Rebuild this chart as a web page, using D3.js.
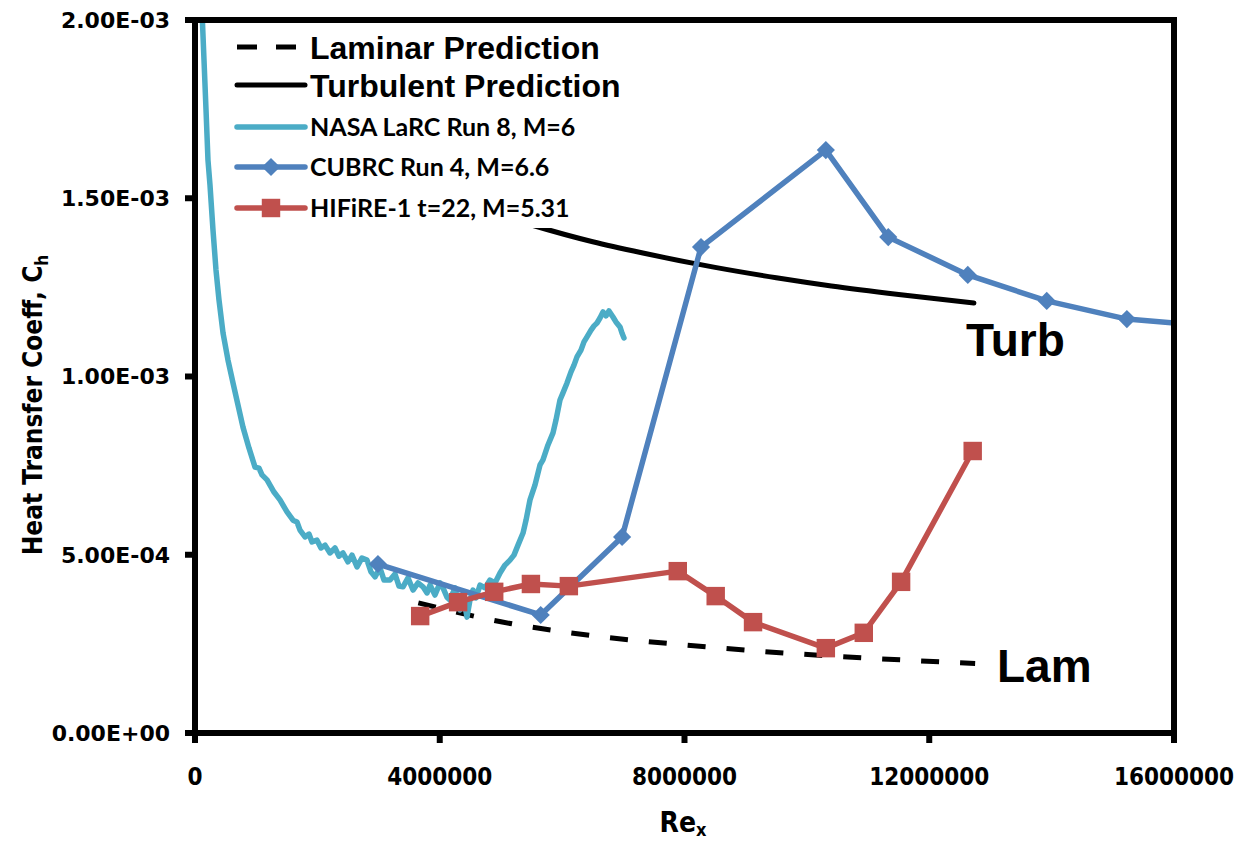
<!DOCTYPE html>
<html>
<head>
<meta charset="utf-8">
<script src="https://cdn.jsdelivr.net/npm/d3@7"></script>
<style>
  body { margin: 0; background: #fff; }
  svg { display: block; }
</style>
</head>
<body>
<svg id="chart" width="1234" height="844"></svg>
<script>
// ---- data ----
const xTicks = [0, 4000000, 8000000, 12000000, 16000000];
const yTicks = [0, 0.0005, 0.001, 0.0015, 0.002];
const yTickLabels = ['0.00E+00', '5.00E-04', '1.00E-03', '1.50E-03', '2.00E-03'];

const seriesNames = ['Laminar Prediction', 'Turbulent Prediction', 'NASA LaRC Run 8, M=6',
  'CUBRC Run 4, M=6.6', 'HIFiRE-1 t=22, M=5.31'];

const laminarRe = [3650000, 5000000, 6500000, 8000000, 9500000, 11000000, 12750000];
const laminarCh = [3.65e-4, 3.12e-4, 2.73e-4, 2.47e-4, 2.26e-4, 2.10e-4, 1.95e-4];

const turbRe = [3700000, 4500000, 5500000, 6500000, 7300000, 8500000, 9500000, 10400000, 11500000, 12730000];
const turbCh = [1.54e-3, 1.48e-3, 1.425e-3, 1.378e-3, 1.347e-3, 1.306e-3, 1.277e-3, 1.254e-3, 1.23e-3, 1.206e-3];

const nasaRe = [114000, 147000, 180000, 212000, 245000, 294000, 343000, 392000, 458000, 539000,
  621000, 703000, 784000, 883000, 981000, 1046000, 1095000, 1177000, 1291000, 1389000,
  1504000, 1602000, 1667000, 1716000, 1798000, 1863000, 1912000, 1994000, 2059000, 2125000,
  2206000, 2288000, 2353000, 2419000, 2500000, 2566000, 2648000, 2729000, 2811000, 2876000,
  2942000, 3023000, 3089000, 3187000, 3269000, 3334000, 3399000, 3481000, 3563000, 3645000,
  3726000, 3792000, 3841000, 3922000, 4004000, 4053000, 4118000, 4167000, 4249000, 4331000,
  4396000, 4445000, 4494000, 4543000, 4592000, 4658000, 4740000, 4821000, 4903000, 4985000,
  5066000, 5148000, 5213000, 5279000, 5361000, 5410000, 5475000, 5557000, 5639000, 5687000,
  5769000, 5851000, 5900000, 5965000, 6014000, 6080000, 6145000, 6194000, 6243000, 6308000,
  6357000, 6407000, 6472000, 6521000, 6570000, 6619000, 6668000, 6717000, 6766000, 6831000,
  6880000, 6946000, 6978000, 7011000];
const nasaCh = [20.28e-4, 18.88e-4, 17.48e-4, 16.07e-4, 15.37e-4, 14.11e-4, 12.99e-4, 12.15e-4, 11.22e-4, 10.46e-4,
  9.82e-4, 9.20e-4, 8.58e-4, 7.99e-4, 7.46e-4, 7.43e-4, 7.24e-4, 7.10e-4, 6.76e-4, 6.54e-4,
  6.20e-4, 5.97e-4, 5.92e-4, 5.69e-4, 5.50e-4, 5.58e-4, 5.36e-4, 5.41e-4, 5.19e-4, 5.27e-4,
  5.05e-4, 5.19e-4, 4.96e-4, 5.05e-4, 4.80e-4, 4.99e-4, 4.66e-4, 4.91e-4, 4.85e-4, 4.52e-4,
  4.38e-4, 4.63e-4, 4.29e-4, 4.29e-4, 4.46e-4, 4.12e-4, 4.10e-4, 4.35e-4, 4.01e-4, 4.21e-4,
  4.10e-4, 3.93e-4, 4.15e-4, 3.87e-4, 4.21e-4, 4.07e-4, 3.81e-4, 3.73e-4, 4.07e-4, 3.45e-4,
  3.73e-4, 3.25e-4, 3.73e-4, 4.01e-4, 3.79e-4, 4.15e-4, 4.07e-4, 4.29e-4, 4.21e-4, 4.49e-4,
  4.71e-4, 4.85e-4, 4.99e-4, 5.27e-4, 5.61e-4, 5.97e-4, 6.54e-4, 6.96e-4, 7.52e-4, 7.66e-4,
  8.08e-4, 8.42e-4, 8.78e-4, 9.34e-4, 9.54e-4, 9.82e-4, 10.13e-4, 10.32e-4, 10.55e-4, 10.74e-4,
  10.97e-4, 11.11e-4, 11.30e-4, 11.42e-4, 11.50e-4, 11.64e-4, 11.81e-4, 11.70e-4, 11.84e-4, 11.67e-4,
  11.53e-4, 11.39e-4, 11.22e-4, 11.08e-4];

const cubrcRe = [2990000, 5650000, 6980000, 8270000, 10310000, 11330000, 12630000, 13920000, 15230000, 16550000];
const cubrcCh = [4.74e-4, 3.31e-4, 5.50e-4, 1.363e-3, 1.635e-3, 1.391e-3, 1.285e-3, 1.212e-3, 1.161e-3, 1.142e-3];

const hifireRe = [3680000, 4300000, 4890000, 5490000, 6110000, 7890000, 8510000, 9120000, 10310000, 10930000, 11540000, 12710000];
const hifireCh = [3.28e-4, 3.67e-4, 3.96e-4, 4.18e-4, 4.12e-4, 4.54e-4, 3.84e-4, 3.11e-4, 2.38e-4, 2.81e-4, 4.24e-4, 7.91e-4];

// ---- colours (excel 2007 palette) ----
const cNasa = '#4BACC6';
const cCubrc = '#4F81BD';
const cHifire = '#C0504D';

const svg = d3.select('#chart');
const plot = { left: 195, right: 1174, top: 20, bottom: 733 };

const x = d3.scaleLinear().domain([0, 16000000]).range([plot.left, plot.right]);
const y = d3.scaleLinear().domain([0, 0.002]).range([plot.bottom, plot.top]);

svg.append('defs').append('clipPath').attr('id', 'clip')
  .append('rect')
  .attr('x', plot.left).attr('y', plot.top)
  .attr('width', plot.right - plot.left).attr('height', plot.bottom - plot.top);

const line = d3.line().x(d => x(d[0])).y(d => y(d[1]));
const smooth = d3.line().x(d => x(d[0])).y(d => y(d[1])).curve(d3.curveMonotoneX);

const series = svg.append('g').attr('clip-path', 'url(#clip)');

// laminar (dashed)
series.append('path')
  .datum(d3.zip(laminarRe, laminarCh))
  .attr('d', smooth)
  .attr('fill', 'none').attr('stroke', '#000').attr('stroke-width', 5)
  .attr('stroke-dasharray', '18,21');

// turbulent
series.append('path')
  .datum(d3.zip(turbRe, turbCh))
  .attr('d', smooth)
  .attr('fill', 'none').attr('stroke', '#000').attr('stroke-width', 5)
  .attr('stroke-linecap', 'round');

// nasa larc
series.append('path')
  .datum(d3.zip(nasaRe, nasaCh))
  .attr('d', line)
  .attr('fill', 'none').attr('stroke', cNasa).attr('stroke-width', 5.5)
  .attr('stroke-linejoin', 'round').attr('stroke-linecap', 'round');

// cubrc
const cubrcData = d3.zip(cubrcRe, cubrcCh);
series.append('path')
  .datum(cubrcData)
  .attr('d', line)
  .attr('fill', 'none').attr('stroke', cCubrc).attr('stroke-width', 5.5)
  .attr('stroke-linejoin', 'round');

const diamond = d3.symbol().type(d3.symbolSquare).size(165);
series.selectAll('.dia')
  .data(cubrcData)
  .join('path')
  .attr('class', 'dia')
  .attr('d', diamond)
  .attr('transform', d => `translate(${x(d[0])},${y(d[1])}) rotate(45)`)
  .attr('fill', cCubrc);

// hifire
const hifireData = d3.zip(hifireRe, hifireCh);
series.append('path')
  .datum(hifireData)
  .attr('d', line)
  .attr('fill', 'none').attr('stroke', cHifire).attr('stroke-width', 5.5)
  .attr('stroke-linejoin', 'round');

const square = d3.symbol().type(d3.symbolSquare).size(340);
series.selectAll('.sq')
  .data(hifireData)
  .join('path')
  .attr('class', 'sq')
  .attr('d', square)
  .attr('transform', d => `translate(${x(d[0])},${y(d[1])})`)
  .attr('fill', cHifire);

// ---- frame + ticks ----
svg.append('rect')
  .attr('x', plot.left).attr('y', plot.top)
  .attr('width', plot.right - plot.left).attr('height', plot.bottom - plot.top)
  .attr('fill', 'none').attr('stroke', '#000').attr('stroke-width', 6);

svg.append('g').selectAll('line')
  .data(yTicks)
  .join('line')
  .attr('x1', plot.left - 10).attr('x2', plot.left)
  .attr('y1', d => y(d)).attr('y2', d => y(d))
  .attr('stroke', '#000').attr('stroke-width', 6);

svg.append('g').selectAll('line')
  .data(xTicks)
  .join('line')
  .attr('x1', d => x(d)).attr('x2', d => x(d))
  .attr('y1', plot.bottom).attr('y2', plot.bottom + 10)
  .attr('stroke', '#000').attr('stroke-width', 6);

svg.append('g').selectAll('text')
  .data(yTicks)
  .join('text')
  .attr('x', 170)
  .attr('y', d => y(d))
  .attr('dy', '0.36em')
  .attr('text-anchor', 'end')
  .style('font', 'bold 22px "DejaVu Sans", sans-serif')
  .text((d, i) => yTickLabels[i]);

svg.append('g').selectAll('text')
  .data(xTicks)
  .join('text')
  .attr('x', d => x(d))
  .attr('y', 776)
  .attr('dy', '0.36em')
  .attr('text-anchor', 'middle')
  .style('font', 'bold 24px "Liberation Sans Narrow", "DejaVu Sans Condensed", sans-serif')
  .text(d => d);

// axis titles
const xTitle = svg.append('text')
  .attr('x', 683).attr('y', 832)
  .attr('text-anchor', 'middle')
  .style('font', 'bold 28px "Liberation Sans Narrow", "DejaVu Sans Condensed", sans-serif');
xTitle.append('tspan').text('Re');
xTitle.append('tspan').attr('dy', 4).style('font-size', '18px').text('x');

const yTitle = svg.append('text')
  .attr('transform', 'translate(42,405) rotate(-90)')
  .attr('text-anchor', 'middle')
  .style('font', 'bold 26px "Liberation Sans Narrow", "DejaVu Sans Condensed", sans-serif');
yTitle.append('tspan').text('Heat Transfer Coeff, C');
yTitle.append('tspan').attr('dy', 6).style('font-size', '17px').text('h');

// ---- legend ----
const legend = svg.append('g');
legend.append('rect')
  .attr('x', 228).attr('y', 26).attr('width', 400).attr('height', 202)
  .attr('fill', '#fff');

const rowY = [47, 85, 127, 167, 208];

legend.append('line')
  .attr('x1', 237).attr('x2', 297).attr('y1', rowY[0]).attr('y2', rowY[0])
  .attr('stroke', '#000').attr('stroke-width', 5).attr('stroke-dasharray', '20,19');
legend.append('line')
  .attr('x1', 237).attr('x2', 305).attr('y1', rowY[1]).attr('y2', rowY[1])
  .attr('stroke', '#000').attr('stroke-width', 5).attr('stroke-linecap', 'round');
legend.append('line')
  .attr('x1', 237).attr('x2', 305).attr('y1', rowY[2]).attr('y2', rowY[2])
  .attr('stroke', cNasa).attr('stroke-width', 5.5).attr('stroke-linecap', 'round');
legend.append('line')
  .attr('x1', 237).attr('x2', 305).attr('y1', rowY[3]).attr('y2', rowY[3])
  .attr('stroke', cCubrc).attr('stroke-width', 5.5).attr('stroke-linecap', 'round');
legend.append('path')
  .attr('d', diamond).attr('transform', `translate(271,${rowY[3]}) rotate(45)`)
  .attr('fill', cCubrc);
legend.append('line')
  .attr('x1', 237).attr('x2', 305).attr('y1', rowY[4]).attr('y2', rowY[4])
  .attr('stroke', cHifire).attr('stroke-width', 5.5).attr('stroke-linecap', 'round');
legend.append('path')
  .attr('d', square).attr('transform', `translate(271,${rowY[4]})`)
  .attr('fill', cHifire);

legend.selectAll('text')
  .data(seriesNames)
  .join('text')
  .attr('x', 310)
  .attr('y', (d, i) => rowY[i])
  .attr('dy', '0.36em')
  .style('font', (d, i) => i < 2
    ? 'bold 32px "Liberation Sans", Arial, sans-serif'
    : 'bold 25px Lato, "Open Sans", sans-serif')
  .text(d => d);

// labels on the prediction curves
svg.append('text')
  .attr('x', 966).attr('y', 356)
  .style('font', 'bold 46px "Liberation Sans", Arial, sans-serif')
  .text('Turb');
svg.append('text')
  .attr('x', 997).attr('y', 682)
  .style('font', 'bold 46px "Liberation Sans", Arial, sans-serif')
  .text('Lam');
</script>
</body>
</html>
